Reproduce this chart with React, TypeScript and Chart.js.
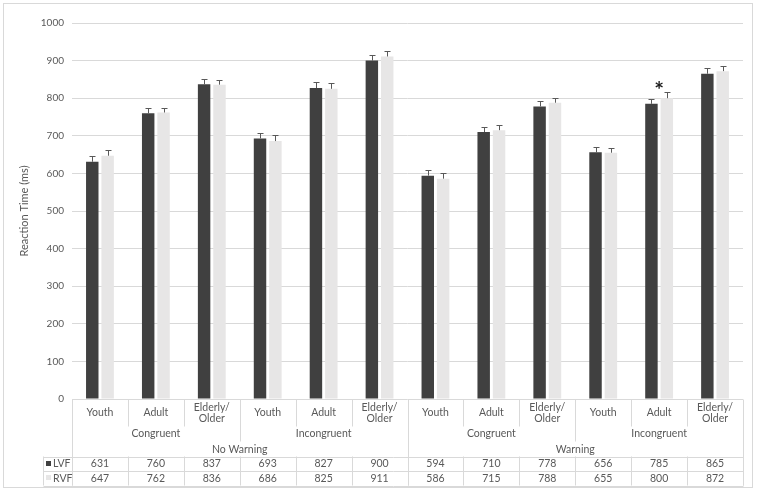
import React, { useEffect, useRef } from 'react';
import { Chart, registerables } from 'chart.js';

Chart.register(...registerables);

const warningLevels = ['No Warning', 'Warning'];
const congruencyLevels = ['Congruent', 'Incongruent'];
const ageGroups = ['Youth', 'Adult', 'Elderly/\nOlder'];
const seriesNames = ['LVF', 'RVF'];
const lvfValues = [631, 760, 837, 693, 827, 900, 594, 710, 778, 656, 785, 865];
const rvfValues = [647, 762, 836, 686, 825, 911, 586, 715, 788, 655, 800, 872];
const lvfErrors = [16, 15, 15, 14, 15, 15, 15, 14, 15, 14, 13, 16];
const rvfErrors = [15, 13, 13, 17, 15, 14, 14, 14, 13, 13, 16, 14];
const significance = ['', '', '', '', '', '', '', '', '', '', '*', ''];
const yAxisTitle = 'Reaction Time (ms)';

const seriesColors = ['#404040', '#e7e6e6'];
const FONT = 'Lato, "DejaVu Sans", sans-serif';
const TEXT = '#595959';
const LINE = '#d9d9d9';

type Cat = { age: string; cong: string; warn: string };
const categories: Cat[] = [];
warningLevels.forEach((warn) =>
  congruencyLevels.forEach((cong) =>
    ageGroups.forEach((age) => categories.push({ age, cong, warn }))
  )
);

const errorsBySeries = [lvfErrors, rvfErrors];

const borderPlugin = {
  id: 'outerBorder',
  beforeDraw(chart: any) {
    const ctx = chart.ctx;
    ctx.save();
    ctx.fillStyle = '#ffffff';
    ctx.fillRect(0, 0, chart.width, chart.height);
    ctx.strokeStyle = LINE;
    ctx.lineWidth = 1;
    ctx.strokeRect(3.5, 3.5, chart.width - 8, chart.height - 6);
    ctx.restore();
  },
};

const errorBarPlugin = {
  id: 'errorBars',
  afterDatasetsDraw(chart: any) {
    const ctx = chart.ctx;
    const y = chart.scales.y;
    ctx.save();
    ctx.strokeStyle = '#595959';
    ctx.lineWidth = 1;
    chart.data.datasets.forEach((ds: any, di: number) => {
      const meta = chart.getDatasetMeta(di);
      meta.data.forEach((bar: any, i: number) => {
        const v = ds.data[i];
        const e = errorsBySeries[di][i];
        const xp = Math.round(bar.x) + 0.5;
        const yt = Math.round(y.getPixelForValue(v + e)) + 0.5;
        ctx.beginPath();
        ctx.moveTo(xp, bar.y);
        ctx.lineTo(xp, yt);
        ctx.moveTo(xp - 3, yt);
        ctx.lineTo(xp + 3, yt);
        ctx.stroke();
      });
    });
    // significance markers
    const x = chart.scales.x;
    ctx.fillStyle = '#1a1a1a';
    ctx.font = `bold 23px ${FONT}`;
    ctx.textAlign = 'center';
    ctx.textBaseline = 'middle';
    significance.forEach((s, i) => {
      if (!s) return;
      const top = Math.max(lvfValues[i] + lvfErrors[i], rvfValues[i] + rvfErrors[i]);
      ctx.fillText(s, x.getPixelForValue(i), y.getPixelForValue(top) - 2);
    });
    ctx.restore();
  },
};

const tablePlugin = {
  id: 'dataTable',
  afterDraw(chart: any) {
    const ctx = chart.ctx;
    const x = chart.scales.x;
    const area = chart.chartArea;
    const n = categories.length;
    const cw = (area.right - area.left) / n;
    const edge = (k: number) => Math.round(x.getPixelForValue(k) - cw / 2) + 0.5;
    const top = Math.round(area.bottom) + 0.5;
    const ageBottom = top + 27;
    const congBottom = top + 42;
    const headBottom = top + 57;
    const rowH = 14.5;
    const tableBottom = headBottom + rowH * 2;
    const legendLeft = 43.5;
    const perCong = ageGroups.length;
    const perWarn = ageGroups.length * congruencyLevels.length;

    ctx.save();
    ctx.strokeStyle = LINE;
    ctx.lineWidth = 1;
    ctx.beginPath();
    for (let k = 0; k <= n; k++) {
      const px = edge(k);
      let bottomHead = ageBottom;
      if (k === 0 || k === n || k % perWarn === 0) bottomHead = tableBottom;
      else if (k % perCong === 0) bottomHead = congBottom;
      ctx.moveTo(px, top);
      ctx.lineTo(px, bottomHead);
      ctx.moveTo(px, headBottom);
      ctx.lineTo(px, tableBottom);
    }
    ctx.moveTo(legendLeft, headBottom);
    ctx.lineTo(legendLeft, tableBottom);
    [headBottom, headBottom + rowH, tableBottom].forEach((yy) => {
      const r = Math.round(yy) + 0.5;
      ctx.moveTo(legendLeft, r);
      ctx.lineTo(edge(n), r);
    });
    ctx.stroke();

    ctx.fillStyle = TEXT;
    ctx.font = `10.5px ${FONT}`;
    ctx.textAlign = 'center';
    ctx.textBaseline = 'middle';
    categories.forEach((c, i) => {
      const cx = x.getPixelForValue(i);
      const lines = c.age.split('\n');
      const lh = 11.5;
      const y0 = top + 13.5 - ((lines.length - 1) * lh) / 2;
      lines.forEach((ln, j) => ctx.fillText(ln, cx, y0 + j * lh));
    });
    for (let g = 0; g < n / perCong; g++) {
      const cx = (x.getPixelForValue(g * perCong) + x.getPixelForValue(g * perCong + perCong - 1)) / 2;
      ctx.fillText(categories[g * perCong].cong, cx, top + 34);
    }
    for (let g = 0; g < n / perWarn; g++) {
      const cx = (x.getPixelForValue(g * perWarn) + x.getPixelForValue(g * perWarn + perWarn - 1)) / 2;
      ctx.fillText(categories[g * perWarn].warn, cx, top + 50.5);
    }
    chart.data.datasets.forEach((ds: any, di: number) => {
      const cy = headBottom + rowH * di + rowH / 2;
      ds.data.forEach((v: number, i: number) => {
        ctx.fillText(String(v), x.getPixelForValue(i), cy);
      });
      ctx.fillStyle = seriesColors[di];
      ctx.fillRect(46, Math.round(cy) - 3, 5, 5);
      ctx.fillStyle = TEXT;
      ctx.textAlign = 'left';
      ctx.fillText(seriesNames[di], 53, cy);
      ctx.textAlign = 'center';
    });
    ctx.restore();
  },
};

export default function App() {
  const ref = useRef<HTMLCanvasElement | null>(null);
  useEffect(() => {
    if (!ref.current) return;
    const chart = new Chart(ref.current, {
      type: 'bar',
      data: {
        labels: categories.map((c) => [c.age, c.cong, c.warn].join(' ')),
        datasets: [
          { label: seriesNames[0], data: lvfValues, backgroundColor: seriesColors[0] },
          { label: seriesNames[1], data: rvfValues, backgroundColor: seriesColors[1] },
        ],
      },
      options: {
        responsive: false,
        animation: false,
        devicePixelRatio: 1,
        categoryPercentage: 0.55,
        barPercentage: 0.81,
        layout: { padding: { top: 23, right: 14, bottom: 91, left: 0 } },
        plugins: { legend: { display: false }, tooltip: { enabled: false } },
        scales: {
          x: { display: false },
          y: {
            min: 0,
            max: 1000,
            ticks: {
              stepSize: 100,
              color: TEXT,
              font: { family: FONT, size: 10 },
              padding: 8,
              callback: (v: any) => String(v),
            },
            grid: { color: LINE, drawTicks: false },
            border: { display: false },
            title: {
              display: true,
              text: yAxisTitle,
              color: TEXT,
              font: { family: FONT, size: 11 },
              padding: { top: 18, bottom: 0 },
            },
            afterFit(scale: any) {
              scale.width = 72;
            },
          },
        },
      },
      plugins: [borderPlugin, errorBarPlugin, tablePlugin],
    });
    return () => chart.destroy();
  }, []);
  return (
    <div style={{ position: 'absolute', left: 0, top: 0, width: 757, height: 490 }}>
      <canvas ref={ref} width={757} height={490} style={{ width: 757, height: 490 }} />
    </div>
  );
}
